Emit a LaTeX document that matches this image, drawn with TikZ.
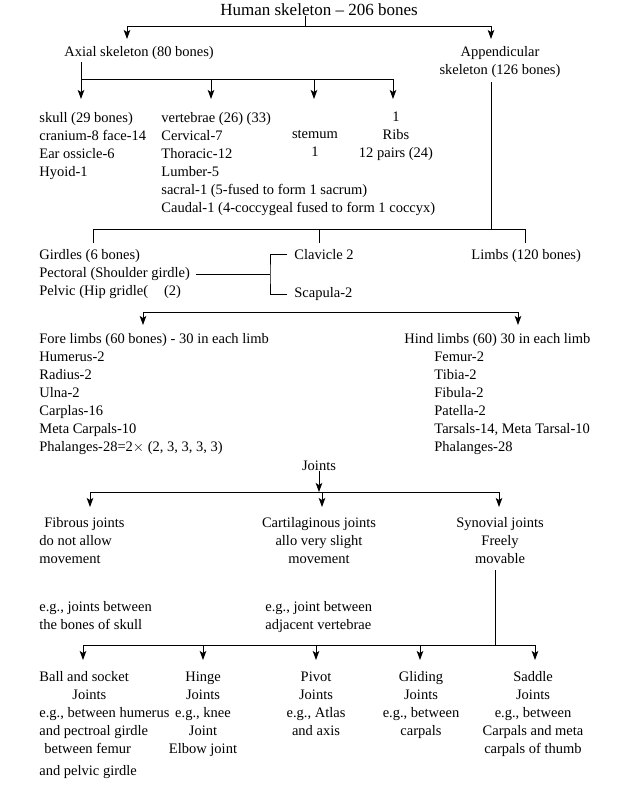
\documentclass[tikz,border=0pt]{standalone}
\usepackage{fontspec}
\setmainfont{Liberation Serif}
\usetikzlibrary{arrows.meta}
\tikzstyle{txt} = [inner sep=0pt, 
font=\fontsize{14.5}{18}\selectfont]
\tikzstyle{heading} = [inner sep=0pt, 
font=\fontsize{17}{20}\selectfont]
\tikzstyle{leftblock} = [txt, align=left, anchor=north west]
\tikzstyle{midblock} = [txt, align=center, anchor=north]
\tikzstyle{arrow} = [-{Stealth[length=9pt,width=6.5pt,inset=2pt]}]

\begin{document}
\begin{tikzpicture}[x=1pt, y=-1pt, line width=0.8pt]
			\useasboundingbox[fill=white] (0,0) rectangle (636,787);
			
			\node (human)[heading] at (319,10) {Human skeleton -- 206 bones};
			\node (axial)[leftblock] at (64,46) {Axial skeleton (80 bones)};
			\node (append)[midblock] at (500,46) {Appendicular\\skeleton (126 bones)};
			\coordinate (topbar) at (305,26);
			\coordinate (axialtip) at (127,39);
			\coordinate (appendtip) at (491,39);
			\draw (human.south -| topbar) -- (topbar);
			\draw [arrow] (topbar) -| (axialtip);
			\draw [arrow] (topbar) -| (appendtip);
			
			% axial skeleton
			\node (skull)[leftblock] at (39,112) {skull (29 bones)\\cranium-8 face-14\\Ear ossicle-6\\Hyoid-1};
			\node (vert)[leftblock] at (161,112) {vertebrae (26) (33)\\Cervical-7\\Thoracic-12\\Lumber-5\\sacral-1 (5-fused to form 1 sacrum)\\Caudal-1 (4-coccygeal fused to form 1 coccyx)};
			\node (stemum)[midblock] at (315,130) {stemum\\1};
			\node (ribs)[midblock] at (396,112) {1\\Ribs\\12 pairs (24)};
			\coordinate (axbar) at (81,79);
			\coordinate (skulltip) at (81,99);
			\coordinate (verttip) at (211,99);
			\coordinate (stemtip) at (314,99);
			\coordinate (ribstip) at (393,99);
			\draw ([yshift=-2pt]axial.south -| axbar) -- (axbar) -- (axbar -| ribstip);
			\draw [arrow] (axbar) -- (skulltip);
			\draw [arrow] (axbar -| verttip) -- (verttip);
			\draw [arrow] (axbar -| stemtip) -- (stemtip);
			\draw [arrow] (axbar -| ribstip) -- (ribstip);
			
			% appendicular skeleton
			\coordinate (appbar) at (491,229);
			\coordinate (girdtick) at (93,243);
			\coordinate (clavtick) at (319,243);
			\coordinate (limbtick) at (525,243);
			\draw ([yshift=-4pt]append.south -| appbar) -- (appbar);
			\draw (girdtick) |- (limbtick |- appbar) -- (limbtick);
			\draw (clavtick |- appbar) -- (clavtick);
			
			\node (girdles)[leftblock] at (39,249) {Girdles (6 bones)\\Pectoral (Shoulder girdle)\\Pelvic (Hip gridle(\hspace{1.1em}(2)};
			\node (clavicle)[leftblock] at (294,249) {Clavicle 2};
			\node (scapula)[leftblock] at (294,287) {Scapula-2};
			\node (limbs)[leftblock] at (471,249) {Limbs (120 bones)};
			\coordinate (pect) at (196,274);
			\coordinate (brk) at (270,274);
			\draw (pect) -- (brk);
			\draw ([xshift=-7pt]clavicle.west) -| (brk) |- ([xshift=-7pt]scapula.west);
			
			% limbs
			\coordinate (limbbar) at (330,312);
			\coordinate (foretip) at (143,325);
			\coordinate (hindtip) at (518,325);
			\draw [arrow] (limbbar) -| (foretip);
			\draw [arrow] (limbbar) -| (hindtip);
			\node (fore)[leftblock] at (39,333) {Fore limbs (60 bones) - 30 in each limb\\Humerus-2\\Radius-2\\Ulna-2\\Carplas-16\\Meta Carpals-10\\Phalanges-28=2$\times$ (2, 3, 3, 3, 3)};
			\node (hindhead)[leftblock] at (404,333) {Hind limbs (60) 30 in each limb};
			\node (hind)[leftblock] at (434,351) {Femur-2\\Tibia-2\\Fibula-2\\Patella-2\\Tarsals-14, Meta Tarsal-10\\Phalanges-28};
			
			% joints
			\node (joints)[midblock] at (319,460) {Joints};
			\coordinate (jbar) at (319,492);
			\coordinate (fibtip) at (90,507);
			\coordinate (carttip) at (322,507);
			\coordinate (syntip) at (499,507);
			\draw [arrow] (joints.south) -- (jbar);
			\draw [arrow] (jbar) -| (fibtip);
			\draw [arrow] (jbar) -| (syntip);
			\draw [arrow] (jbar -| carttip) -- (carttip);
			
			\node (fibrous)[leftblock] at (39,517) {\hspace*{5pt}Fibrous joints\\do not allow\\movement};
			\node (cartil)[midblock] at (319,517) {Cartilaginous joints\\allo very slight\\movement};
			\node (synov)[midblock] at (500,517) {Synovial joints\\Freely\\movable};
			\node (fibeg)[leftblock] at (39,601) {e.g., joints between\\the bones of skull};
			\node (carteg)[leftblock] at (265,601) {e.g., joint between\\adjacent vertebrae};
			
			% synovial joints
			\coordinate (synbar) at (495,645);
			\coordinate (balltip) at (83,660);
			\coordinate (hingetip) at (203,660);
			\coordinate (pivottip) at (316,660);
			\coordinate (glidetip) at (420,660);
			\coordinate (saddletip) at (535,660);
			\draw ([yshift=-6pt]synov.south -| synbar) -- (synbar);
			\draw [arrow] (synbar) -| (balltip);
			\draw [arrow] (synbar) -| (saddletip);
			\draw [arrow] (synbar -| hingetip) -- (hingetip);
			\draw [arrow] (synbar -| pivottip) -- (pivottip);
			\draw [arrow] (synbar -| glidetip) -- (glidetip);
			
			\node (ball)[leftblock] at (39,671) {Ball and socket\\\hspace*{33pt}Joints\\e.g., between humerus\\and pectroal girdle\\\hspace*{5pt}between femur\\[4pt]and pelvic girdle};
			\node (hinge)[midblock] at (203,671) {Hinge\\Joints\\e.g., knee\\Joint\\Elbow joint};
			\node (pivot)[midblock] at (316,671) {Pivot\\Joints\\e.g., Atlas\\and axis};
			\node (gliding)[midblock] at (421,671) {Gliding\\Joints\\e.g., between\\carpals};
			\node (saddle)[midblock] at (533,671) {Saddle\\Joints\\e.g., between\\Carpals and meta\\carpals of thumb};
		\end{tikzpicture}
\end{document}
